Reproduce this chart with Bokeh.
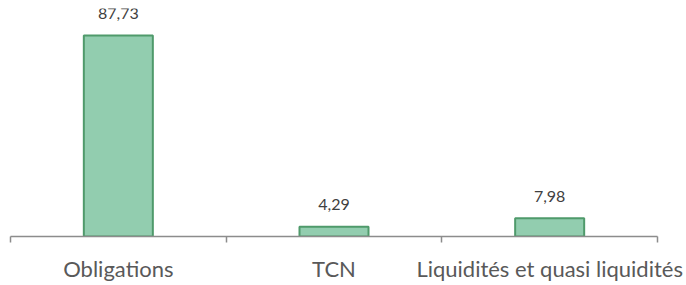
import numpy as np
from bokeh.plotting import figure
from bokeh.models import ColumnDataSource, FixedTicker, Range1d
from bokeh.core.properties import value
from bokeh.embed import file_html
from bokeh.resources import INLINE

categories = ["Obligations", "TCN", "Liquidités et quasi liquidités"]
values = [87.73, 4.29, 7.98]
value_labels = ["87,73", "4,29", "7,98"]

x = np.arange(len(categories)) + 0.5
src = ColumnDataSource(dict(x=x, top=values, lab=value_labels))

p = figure(width=686, height=285, output_backend="svg", toolbar_location=None,
           x_range=Range1d(0, len(categories)), y_range=Range1d(0, 99.5),
           min_border_left=10, min_border_right=29, min_border_top=8, min_border_bottom=49)
p.outline_line_color = None
p.grid.visible = False
p.yaxis.visible = False

p.vbar(x="x", top="top", bottom=0, width=0.32, source=src,
       fill_color="#92CDAF", line_color="#4F9A6B", line_width=2)
p.text(x="x", y="top", text="lab", source=src, text_align="center",
       text_baseline="alphabetic", y_offset=-22, text_font=value("Lato"),
       text_font_size="16px", text_color="#404040")

ax = p.xaxis[0]
ax.ticker = FixedTicker(ticks=list(x), minor_ticks=list(range(len(categories) + 1)))
ax.major_label_overrides = {float(xx): c for xx, c in zip(x, categories)}
ax.major_tick_line_color = None
ax.major_tick_out = 0
ax.major_tick_in = 0
ax.minor_tick_out = 6
ax.minor_tick_in = 0
ax.minor_tick_line_color = "#8C8C8C"
ax.minor_tick_line_width = 1.5
ax.axis_line_color = "#8C8C8C"
ax.axis_line_width = 1.5
ax.major_label_standoff = 12
ax.major_label_text_font = "Lato"
ax.major_label_text_font_size = "22px"
ax.major_label_text_color = "#595959"

open("out.html", "w").write(file_html(p, INLINE))
